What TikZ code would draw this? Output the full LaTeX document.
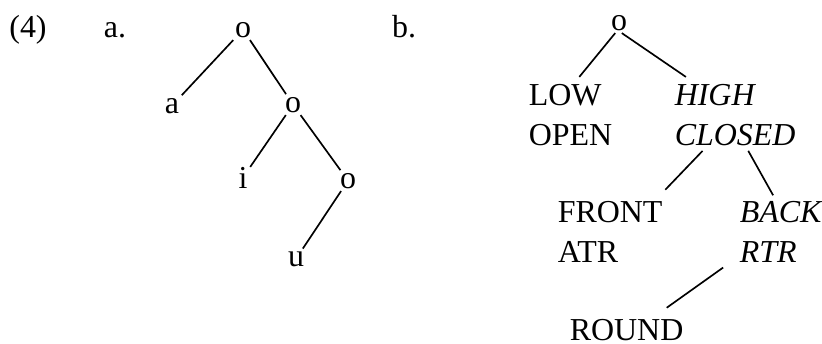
\documentclass[tikz,border=0pt]{standalone}
\usepackage{fontspec}
\setmainfont{Liberation Serif}
\begin{document}
\begin{tikzpicture}[x=0.36pt,y=-0.36pt,
    every node/.style={inner sep=1pt,outer sep=0pt,font=\fontsize{11.5}{14}\selectfont}]

        \useasboundingbox (0,0) rectangle (822,343);

        \node[anchor=base] (ex)   at (28,37)  {(4)};
        \node[anchor=base] (suba) at (115,37) {a.};
        \node[anchor=base] (subb) at (404,37) {b.};

        % tree a
        \begin{scope}[every node/.append style={anchor=base}]
          \node (ro) at (243,37)  {o};
          \node (ta) at (172,113) {a};
          \node (o1) at (293,112) {o};
          \node (ti) at (243,188) {i};
          \node (o2) at (348,188) {o};
          \node (tu) at (296,266) {u};
        \end{scope}

        % tree b
        \begin{scope}[every node/.append style={anchor=base west}]
          \node[anchor=base] (r) at (619,30) {o};
          \node (low)    at (526,105) {LOW};
          \node (open)   at (526,145) {OPEN};
          \node (high)   at (672,105) {\textit{HIGH}};
          \node (closed) at (672,145) {\textit{CLOSED}};
          \node (front)  at (555,222) {FRONT};
          \node (atr)    at (555,262) {ATR};
          \node (back)   at (737,222) {\textit{BACK}};
          \node (rtr)    at (737,262) {\textit{RTR}};
          \node (round)  at (567,340) {ROUND};
        \end{scope}

        \begin{scope}[every edge/.style={draw,line width=0.6pt}]
          \path (ro) edge (ta);
          \path (ro) edge (o1);
          \path (o1) edge (ti);
          \path (o1) edge (o2);
          \path (o2) edge (tu);

          \path (r.250) edge ([xshift=-9pt,yshift=1.5pt]low.north east);
          \path (r.285) edge ([xshift=5pt,yshift=1.5pt]high.north west);
          \path ([xshift=11pt,yshift=-1pt]closed.south west) edge ([yshift=3pt]front.north east);
          \path ([xshift=-18pt,yshift=-1pt]closed.south east) edge ([xshift=13pt,yshift=1pt]back.north west);
          \path ([xshift=-5pt,yshift=-1pt]rtr.south west) edge ([xshift=-7pt,yshift=3pt]round.north east);
        \end{scope}

      \end{tikzpicture}
\end{document}
